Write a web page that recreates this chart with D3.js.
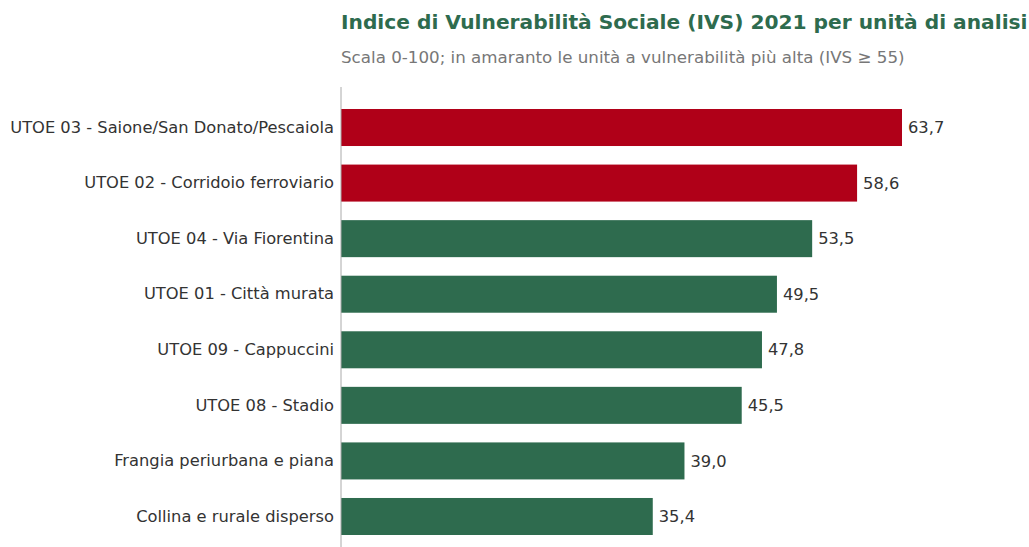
<!DOCTYPE html>
<html>
<head>
<meta charset="utf-8">
<script src="https://cdn.jsdelivr.net/npm/d3@7"></script>
<style>
  body { margin: 0; background: #fff; }
  svg { display: block; font-family: "DejaVu Sans", sans-serif; }
</style>
</head>
<body>
<div id="chart"></div>
<script>
// Data
const units = [
  "UTOE 03 - Saione/San Donato/Pescaiola",
  "UTOE 02 - Corridoio ferroviario",
  "UTOE 04 - Via Fiorentina",
  "UTOE 01 - Città murata",
  "UTOE 09 - Cappuccini",
  "UTOE 08 - Stadio",
  "Frangia periurbana e piana",
  "Collina e rurale disperso"
];
const ivs = [63.7, 58.6, 53.5, 49.5, 47.8, 45.5, 39.0, 35.4];
const threshold = 55;

const width = 1029, height = 547;
const left = 341;

const svg = d3.select("#chart").append("svg")
  .attr("width", width)
  .attr("height", height);

// Title & subtitle
svg.append("text")
  .attr("x", left).attr("y", 29)
  .attr("fill", "#2e6b4e")
  .attr("font-size", 20.2)
  .attr("font-weight", "bold")
  .text("Indice di Vulnerabilità Sociale (IVS) 2021 per unità di analisi");

svg.append("text")
  .attr("x", left).attr("y", 63)
  .attr("fill", "#777")
  .attr("font-size", 16.7)
  .text("Scala 0-100; in amaranto le unità a vulnerabilità più alta (IVS ≥ 55)");

// Scales
const x = d3.scaleLinear().domain([0, 63.7]).range([left, 902]);
const y = d3.scaleBand().domain(units).range([87, 557])
  .paddingInner(0.334).paddingOuter(0.396);

const data = units.map((u, i) => ({unit: u, value: ivs[i]}));

// Bars
svg.selectAll("rect.bar")
  .data(data)
  .enter().append("rect")
  .attr("class", "bar")
  .attr("x", x(0))
  .attr("y", d => y(d.unit))
  .attr("width", d => x(d.value) - x(0))
  .attr("height", y.bandwidth())
  .attr("fill", d => d.value >= threshold ? "#b00018" : "#2e6b4e");

// Value labels
svg.selectAll("text.val")
  .data(data)
  .enter().append("text")
  .attr("class", "val")
  .attr("x", d => x(d.value) + 6)
  .attr("y", d => y(d.unit) + y.bandwidth() / 2)
  .attr("dy", "0.35em")
  .attr("fill", "#333")
  .attr("font-size", 16.3)
  .text(d => d.value.toFixed(1).replace(".", ","));

// Y axis
const yAxis = svg.append("g")
  .attr("transform", `translate(${left},0)`)
  .call(d3.axisLeft(y).tickSize(0).tickPadding(7));
yAxis.select(".domain").attr("stroke", "#aaa").attr("d", "M0,87V557");
yAxis.selectAll("text")
  .attr("fill", "#333")
  .attr("font-size", 16.3)
  .attr("font-family", "DejaVu Sans, sans-serif");
</script>
</body>
</html>
